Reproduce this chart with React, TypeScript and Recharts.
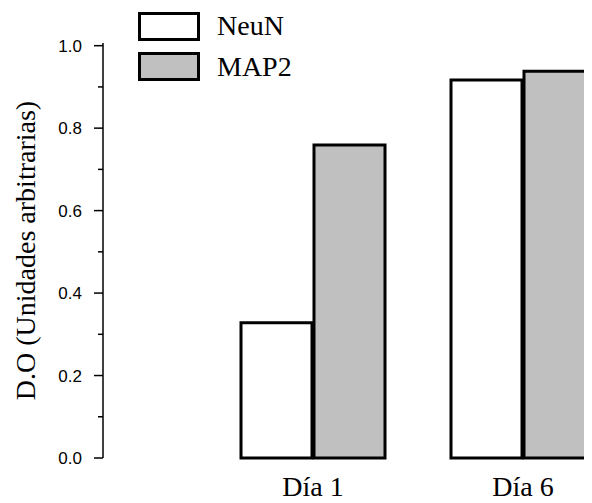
import React from 'react';
import { BarChart, Bar, XAxis, YAxis, Legend } from 'recharts';

const categories = ['Día 1', 'Día 6'];
const neuN = [0.328, 0.917];
const map2 = [0.759, 0.938];
const yTicks = [0, 0.1, 0.2, 0.3, 0.4, 0.5, 0.6, 0.7, 0.8, 0.9, 1.0];
const majorTicks = [0, 0.2, 0.4, 0.6, 0.8, 1.0];
const seriesNames = ['NeuN', 'MAP2'];
const seriesFills = ['#ffffff', '#c0c0c0'];
const yTitle = 'D.O (Unidades arbitrarias)';

const data = categories.map((c, i) => ({ name: c, NeuN: neuN[i], MAP2: map2[i] }));

const SERIF = '"Liberation Serif", "Times New Roman", serif';
const SANS = '"Liberation Sans", Arial, sans-serif';

const YTick = (props: any) => {
  const { x, y, payload } = props;
  const v = payload.value;
  const isMajor = majorTicks.some((m) => Math.abs(m - v) < 1e-6);
  const len = isMajor ? 9 : 5;
  return (
    <g>
      <line x1={x - len} x2={x} y1={y} y2={y} stroke="#000" strokeWidth={1.5} />
      {isMajor && (
        <text x={x - 21} y={y} dy="0.36em" textAnchor="end" fontSize={17} fontFamily={SANS} fill="#000">
          {v.toFixed(1)}
        </text>
      )}
    </g>
  );
};

const XTick = (props: any) => {
  const { x, y, payload } = props;
  return (
    <text x={x} y={y} dy="0.71em" textAnchor="middle" fontSize={28} fontFamily={SERIF} fill="#000">
      {payload.value}
    </text>
  );
};

const YLabel = (props: any) => {
  const vb = props.viewBox || { x: 0, y: 35, width: 95, height: 415 };
  const x = vb.x + 17;
  const cy = vb.y + vb.height / 2;
  return (
    <text
      x={x}
      y={cy}
      dy="0.36em"
      textAnchor="middle"
      transform={`rotate(-90 ${x} ${cy})`}
      fontSize={28}
      fontFamily={SERIF}
      fill="#000"
    >
      {yTitle}
    </text>
  );
};

const LegendContent = () => (
  <svg width={300} height={90} style={{ display: 'block' }}>
    {seriesNames.map((n, i) => (
      <g key={n}>
        <rect x={131.5} y={5.5 + i * 40} width={59} height={26} fill={seriesFills[i]} stroke="#000" strokeWidth={3} />
        <text x={209} y={27 + i * 41} fontSize={28} fontFamily={SERIF} fill="#000">
          {n}
        </text>
      </g>
    ))}
  </svg>
);

export default function App() {
  return (
    <BarChart
      width={584}
      height={495}
      data={data}
      margin={{ top: 35, right: 0, bottom: 0, left: 0 }}
      barGap={2}
      barSize={71}
    >
      <XAxis
        dataKey="name"
        axisLine={false}
        tickLine={false}
        tickSize={0}
        tickMargin={18}
        height={45}
        padding={{ left: 105, right: -36 }}
        tick={<XTick />}
        interval={0}
      />
      <YAxis
        type="number"
        domain={[0, 1.0065]}
        ticks={yTicks}
        width={95}
        tickSize={0}
        tickMargin={0}
        tickLine={false}
        axisLine={{ stroke: '#000', strokeWidth: 1.5 }}
        tick={<YTick />}
        interval={0}
        label={<YLabel />}
      />
      <Legend
        layout="vertical"
        align="center"
        verticalAlign="middle"
        wrapperStyle={{ position: 'absolute', left: 0, top: 0, width: 300, height: 90 }}
        content={<LegendContent />}
      />
      <Bar dataKey="NeuN" fill={seriesFills[0]} stroke="#000" strokeWidth={3} isAnimationActive={false} />
      <Bar dataKey="MAP2" fill={seriesFills[1]} stroke="#000" strokeWidth={3} isAnimationActive={false} />
    </BarChart>
  );
}
